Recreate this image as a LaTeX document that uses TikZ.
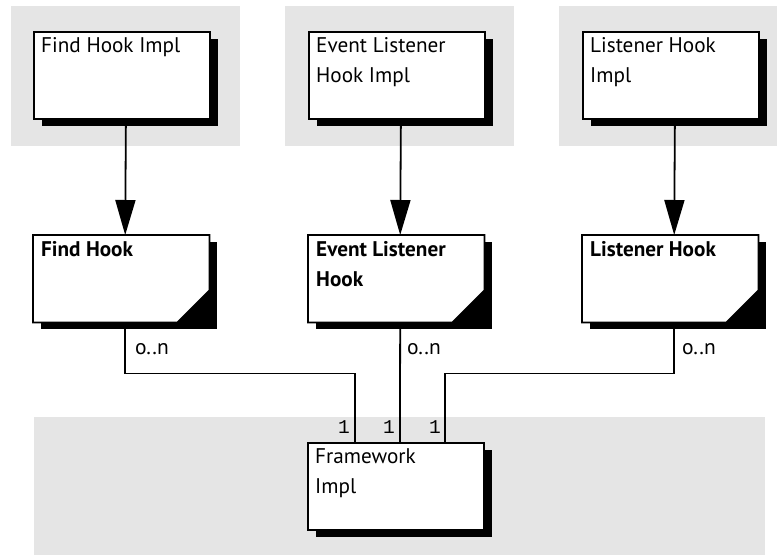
\documentclass[tikz,border=0pt]{standalone}
\usepackage{fontspec}
\setmainfont{PT Sans}
\setmonofont{Liberation Mono}
\usetikzlibrary{arrows.meta,shadows}
\definecolor{bg}{RGB}{229,229,229}
\begin{document}
\begin{tikzpicture}[x=1pt,y=-1pt,
  panel/.style={fill=bg, draw=none},
  boxshadow/.style={general shadow={fill=black, shadow xshift=8pt, shadow yshift=-7pt}},
  implbox/.style={draw, line width=1.8pt, fill=white, minimum width=176pt, minimum height=87pt, inner sep=0pt, anchor=north west, boxshadow},
  hookbox/.style={minimum width=176pt, minimum height=87pt, inner sep=0pt, anchor=north west, boxshadow},
  fold/.style={draw, line width=1.8pt, fill=white, line join=miter},
  boxtext/.style={anchor=north west, inner sep=0pt, align=left, font=\fontsize{21.2}{30.5}\selectfont},
  boldtext/.style={boxtext, font=\fontsize{21.2}{30.5}\selectfont\bfseries},
  mult/.style={anchor=base west, inner sep=0pt, font=\fontsize{21.5}{30}\selectfont},
  one/.style={anchor=base east, inner sep=0pt, font=\fontsize{19.5}{20}\selectfont\ttfamily},
  conn/.style={line width=1.8pt},
  arr/.style={conn, -{Triangle[length=35pt,width=20pt]}}
]
\useasboundingbox (0,0) rectangle (777,555);
% background panels
\fill[panel] (11,6) rectangle (240,146);
\fill[panel] (285,6) rectangle (514,146);
\fill[panel] (559,6) rectangle (777,146);
\fill[panel] (34,417) rectangle (765,555);

% impl boxes
\node[implbox] (fhi) at (33,31) {};
\node[implbox] (ehi) at (308,31) {};
\node[implbox] (lhi) at (582,31) {};
\node[implbox] (fw) at (307,442) {};

% hook boxes with folded corner
\node[hookbox] (fh) at (33,235) {};
\node[hookbox] (eh) at (308,235) {};
\node[hookbox] (lh) at (582,235) {};
\foreach \h in {fh,eh,lh}{
  \path[fold] (\h.north west) -- (\h.north east) -- ([yshift=32pt]\h.south east)
    -- ([xshift=-32pt]\h.south east) -- (\h.south west) -- cycle;
}

% texts
\node[boxtext] (tfhi) at ([xshift=8pt,yshift=-6pt]fhi.north west) {Find Hook Impl};
\node[boxtext] (tehi) at ([xshift=8pt,yshift=-6pt]ehi.north west) {Event Listener\\Hook Impl};
\node[boxtext] (tlhi) at ([xshift=8pt,yshift=-6pt]lhi.north west) {Listener Hook\\Impl};
\node[boldtext] (tfh) at ([xshift=8pt,yshift=-6pt]fh.north west) {Find Hook};
\node[boldtext] (teh) at ([xshift=8pt,yshift=-6pt]eh.north west) {Event Listener\\Hook};
\node[boldtext] (tlh) at ([xshift=8pt,yshift=-6pt]lh.north west) {Listener Hook};
\node[boxtext] (tfw) at ([xshift=8pt,yshift=-6pt]fw.north west) {Framework\\Impl};

% arrows
\draw[arr] ([xshift=4pt]fhi.south) -- ([xshift=4pt]fh.north);
\draw[arr] ([xshift=4pt]ehi.south) -- ([xshift=4pt]eh.north);
\draw[arr] ([xshift=4pt]lhi.south) -- ([xshift=4pt]lh.north);

% associations
\draw[conn] ([xshift=4pt]fh.south) -- ++(0,51) -| ([xshift=-41pt]fw.north);
\draw[conn] ([xshift=4pt]eh.south) -- ([xshift=4pt]fw.north);
\draw[conn] ([xshift=4pt]lh.south) -- ++(0,51) -| ([xshift=49pt]fw.north);

% multiplicities
\node[mult] (m1) at (135,354) {o..n};
\node[mult] (m2) at (407,354) {o..n};
\node[mult] (m3) at (682,354) {o..n};
\node[one] (o1) at (350,433) {1};
\node[one] (o2) at (395,433) {1};
\node[one] (o3) at (441,433) {1};
\end{tikzpicture}
\end{document}
